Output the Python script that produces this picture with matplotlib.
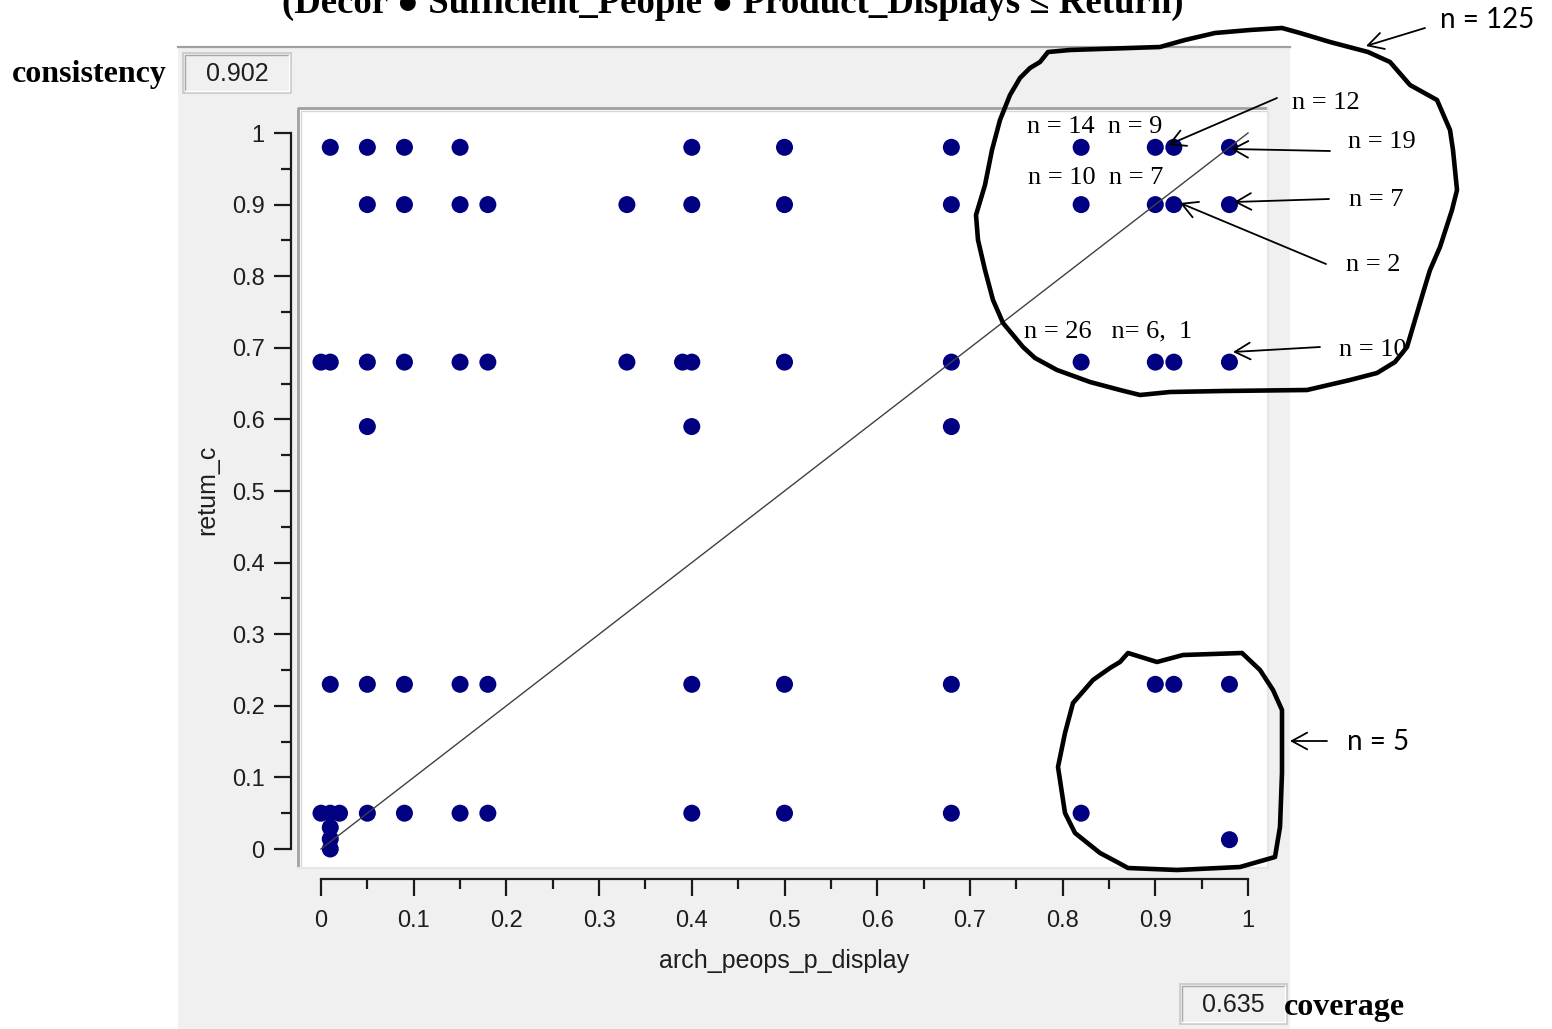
import matplotlib
matplotlib.use('Agg')
import matplotlib.pyplot as plt
from matplotlib.patches import Rectangle, Polygon
from matplotlib.ticker import MultipleLocator

# ---------------- data ----------------
row_098_x = [0.01, 0.05, 0.09, 0.15, 0.40, 0.50, 0.68, 0.82, 0.90, 0.92, 0.98]
row_090_x = [0.05, 0.09, 0.15, 0.18, 0.33, 0.40, 0.50, 0.68, 0.82, 0.90, 0.92, 0.98]
row_068_x = [0.00, 0.01, 0.05, 0.09, 0.15, 0.18, 0.33, 0.39, 0.40, 0.50, 0.68, 0.82, 0.90, 0.92, 0.98]
row_059_x = [0.05, 0.40, 0.68]
row_023_x = [0.01, 0.05, 0.09, 0.15, 0.18, 0.40, 0.50, 0.68, 0.90, 0.92, 0.98]
row_005_x = [0.00, 0.01, 0.02, 0.05, 0.09, 0.15, 0.18, 0.40, 0.50, 0.68, 0.82]
row_levels = [0.98, 0.90, 0.68, 0.59, 0.23, 0.05]
extra_x = [0.01, 0.01, 0.01, 0.98]
extra_y = [0.03, 0.014, 0.0, 0.013]

tick_values = [0, 0.1, 0.2, 0.3, 0.4, 0.5, 0.6, 0.7, 0.8, 0.9, 1]
tick_labels = ['0', '0.1', '0.2', '0.3', '0.4', '0.5', '0.6', '0.7', '0.8', '0.9', '1']

title = '(Decor \u25cf Sufficient_People \u25cf Product_Displays \u2264 Return)'
consistency_value = '0.902'
coverage_value = '0.635'
x_label = 'arch_peops_p_display'
y_label = 'retum_c'

annotations = [  # text, left x, centre y (pixels)
    ('n = 12', 1292, 103),
    ('n = 14  n = 9', 1027, 127),
    ('n = 19', 1348, 142),
    ('n = 10  n = 7', 1028, 178),
    ('n = 7', 1349, 200),
    ('n = 2', 1346, 265),
    ('n = 26   n= 6,  1', 1024, 331),
    ('n = 10', 1339, 350),
]
arrows = [  # tail, head (pixels)
    ((1277, 98), (1168, 145)),
    ((1330, 151), (1231, 149)),
    ((1329, 199), (1234, 202)),
    ((1326, 264), (1180, 203)),
    ((1320, 347), (1233, 352)),
    ((1425, 28), (1366, 46)),
    ((1327, 741), (1290, 741)),
]

big_blob = [(1040, 62), (1048, 52), (1070, 50), (1160, 47), (1185, 40), (1215, 33), (1250, 30),
            (1282, 28), (1300, 33), (1330, 42), (1368, 52), (1390, 62), (1410, 85), (1437, 100),
            (1450, 130), (1453, 150), (1457, 190), (1452, 210), (1440, 247), (1430, 270),
            (1423, 293), (1415, 320), (1407, 347), (1395, 362), (1377, 373), (1350, 380),
            (1307, 390), (1223, 391), (1170, 392), (1140, 395), (1120, 390), (1090, 382),
            (1057, 370), (1035, 358), (1023, 347), (1003, 323), (993, 300), (985, 270),
            (978, 240), (976, 215), (985, 185), (992, 150), (1000, 120), (1010, 95),
            (1020, 78), (1030, 68)]
small_blob = [(1128, 653), (1157, 662), (1183, 655), (1242, 653), (1260, 670), (1273, 690),
              (1282, 710), (1282, 773), (1280, 827), (1275, 857), (1240, 867), (1177, 870),
              (1128, 868), (1117, 862), (1100, 853), (1075, 833), (1065, 813), (1058, 767),
              (1065, 733), (1073, 703), (1093, 680), (1110, 668), (1120, 662)]

# ---------------- figure ----------------
W, H, DPI = 1552, 1029, 100
fig = plt.figure(figsize=(W / DPI, H / DPI), dpi=DPI)
fig.patch.set_facecolor('white')

SERIF = 'Liberation Serif'
SANS = 'Liberation Sans'
TXT = '#1e1e1e'

# background layer (pixel coordinates)
bg = fig.add_axes([0, 0, 1, 1], zorder=0)
bg.set_xlim(0, W)
bg.set_ylim(H, 0)
bg.axis('off')
bg.add_patch(Rectangle((178, 46), 1290 - 178, H - 46, facecolor='#f0f0f0', edgecolor='none'))
bg.plot([178, 1290], [47, 47], color='#a0a0a0', lw=1.6)
# white plot panel with sunken border
bg.add_patch(Rectangle((298, 108), 1268 - 298, 868 - 108, facecolor='white', edgecolor='none'))
bg.plot([298, 298, 1268], [868, 108, 108], color='#a0a0a0', lw=2.0, solid_capstyle='butt')
bg.plot([300.5, 300.5, 1266], [866, 110.5, 110.5], color='#d6d6d6', lw=1.0)
bg.plot([1268, 1268, 298], [108, 868, 868], color='#e6e6e6', lw=1.6)

# value boxes
for (x0, y0, x1, y1) in [(183, 53, 291, 93), (1180, 984, 1287, 1024)]:
    bg.add_patch(Rectangle((x0, y0), x1 - x0, y1 - y0, facecolor='#f0f0f0', edgecolor='#c8c8c8', lw=1.2))
    bg.plot([x0 + 2, x0 + 2, x1 - 2], [y1 - 2, y0 + 2, y0 + 2], color='#a8a8a8', lw=1.0)
    bg.plot([x1 - 2, x1 - 2, x0 + 2], [y0 + 2, y1 - 2, y1 - 2], color='white', lw=1.0)
bg.text(237, 74, consistency_value, ha='center', va='center', family=SANS, fontsize=18, color=TXT)
bg.text(1233, 1005, coverage_value, ha='center', va='center', family=SANS, fontsize=18, color=TXT)
bg.add_patch(Rectangle((1290, 980), 120, 49, facecolor='white', edgecolor='none'))

# ---------------- data axes ----------------
x0px, x1px = 321, 1248     # pixel positions of x=0 and x=1
y0px, y1px = 849, 133      # pixel positions of y=0 and y=1
left, right, top, bottom = 291, 1268, 108, 879
ax = fig.add_axes([left / W, 1 - bottom / H, (right - left) / W, (bottom - top) / H], zorder=1)
ax.set_facecolor('none')
ax.set_xlim((left - x0px) / (x1px - x0px), (right - x0px) / (x1px - x0px))
ax.set_ylim((bottom - y0px) / (y1px - y0px), (top - y0px) / (y1px - y0px))
for s in ['top', 'right']:
    ax.spines[s].set_visible(False)
for s in ['left', 'bottom']:
    ax.spines[s].set_bounds(0, 1)
    ax.spines[s].set_linewidth(1.6)
    ax.spines[s].set_color('#1a1a1a')

ax.set_xticks(tick_values)
ax.set_xticklabels(tick_labels)
ax.set_yticks(tick_values)
ax.set_yticklabels(tick_labels)
ax.xaxis.set_minor_locator(MultipleLocator(0.05))
ax.yaxis.set_minor_locator(MultipleLocator(0.05))
ax.tick_params(which='major', length=12, width=1.6, color='#1a1a1a', labelsize=17,
               labelcolor=TXT, direction='out')
ax.tick_params(which='minor', length=7, width=1.6, color='#1a1a1a', direction='out')
ax.tick_params(axis='y', pad=7)
ax.tick_params(axis='x', pad=10)
for lab in ax.get_xticklabels() + ax.get_yticklabels():
    lab.set_family(SANS)

xs, ys = [], []
for lvl, row in zip(row_levels, [row_098_x, row_090_x, row_068_x, row_059_x, row_023_x, row_005_x]):
    xs += row
    ys += [lvl] * len(row)
xs += extra_x
ys += extra_y
ax.scatter(xs, ys, s=150, c='#000080', edgecolors='none', zorder=3, clip_on=False)
ax.plot([0, 1], [0, 1], color='#404040', lw=1.0, zorder=4)

# ---------------- overlay (pixel coordinates) ----------------
ov = fig.add_axes([0, 0, 1, 1], zorder=2)
ov.set_facecolor('none')
ov.set_xlim(0, W)
ov.set_ylim(H, 0)
ov.axis('off')

ov.text(733, 13, title, ha='center', va='baseline', family=[SERIF, 'DejaVu Serif'],
        fontweight='bold', fontsize=26.5)
ov.text(12, 82, 'consistency', ha='left', va='baseline', family=SERIF, fontweight='bold', fontsize=23)
ov.text(1284, 1015, 'coverage', ha='left', va='baseline', family=SERIF, fontweight='bold', fontsize=23)
ov.text(784, 961, x_label, ha='center', va='center', family=SANS, fontsize=18, color=TXT)
ov.text(207, 490, y_label, ha='center', va='center', rotation=90, family=SANS, fontsize=18, color=TXT)

for txt, lx, cy in annotations:
    ov.text(lx, cy, txt, ha='left', va='center', family=SERIF, fontsize=19)
ov.text(1440, 20, 'n = 125', ha='left', va='center', family='Lato', fontsize=20)
ov.text(1347, 742, 'n = 5', ha='left', va='center', family='Lato', fontsize=20)

for tail, head in arrows:
    ov.annotate('', xy=head, xytext=tail,
                arrowprops=dict(arrowstyle='->,head_length=0.55,head_width=0.3', lw=1.3,
                                color='black', shrinkA=0, shrinkB=0, mutation_scale=20))

for blob in (big_blob, small_blob):
    ov.add_patch(Polygon(blob, closed=True, fill=False, edgecolor='black', lw=3.3, joinstyle='round'))

fig.savefig('out.png', dpi=DPI)
